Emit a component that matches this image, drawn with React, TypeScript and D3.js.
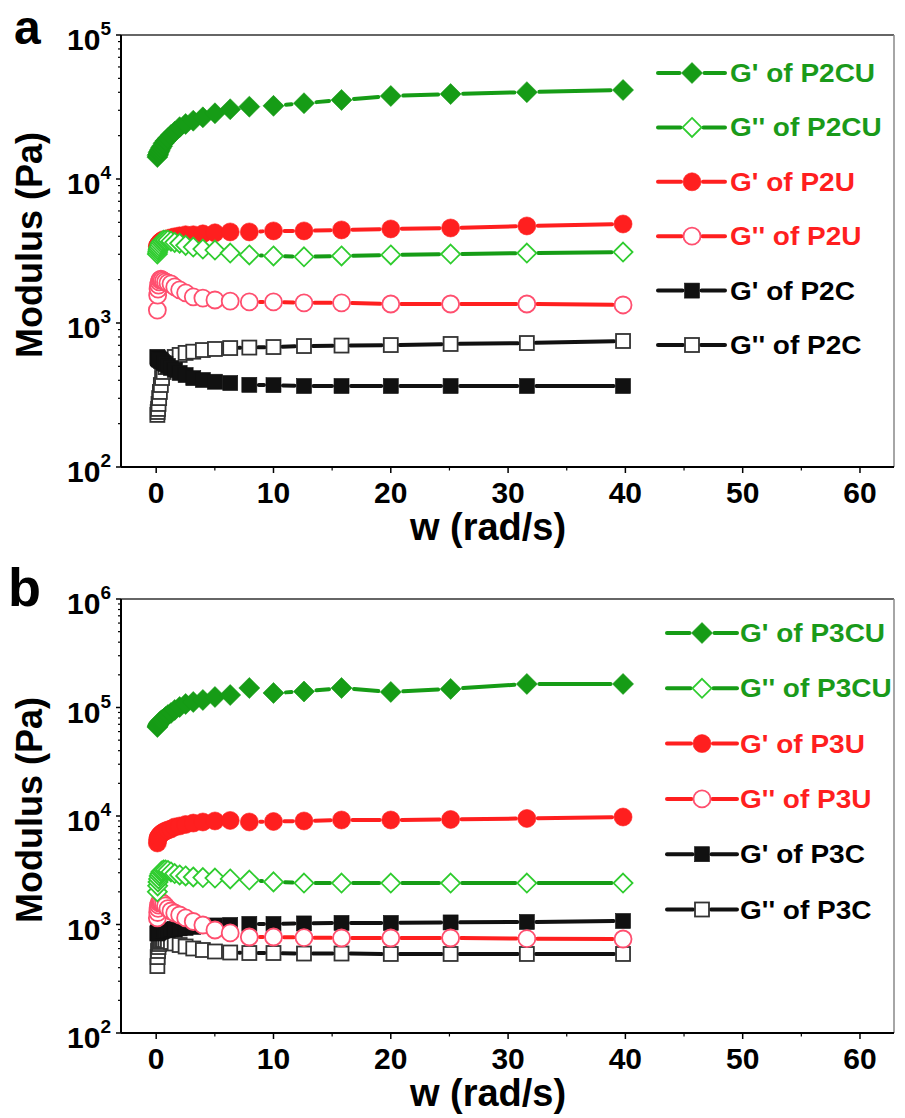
import React from "react";
import * as d3 from "d3";

// angular frequency (rad/s), low to high
const freq = [0.1, 0.126, 0.158, 0.2, 0.251, 0.316, 0.398, 0.501, 0.631, 0.794, 1, 1.26, 1.58, 2, 2.51, 3.16, 3.98, 5.01, 6.31, 7.94, 10, 12.6, 15.8, 20, 25.1, 31.6, 39.8];

// panel a
const p2cuStorage = [14200, 14600, 14800, 15200, 15500, 15900, 16400, 16900, 17700, 18400, 19200, 20200, 21300, 22900, 24100, 25400, 26800, 28600, 30500, 31800, 32200, 33600, 35400, 37700, 38900, 40100, 41500];
const p2cuLoss = [3010, 3110, 3210, 3300, 3400, 3520, 3630, 3700, 3760, 3760, 3760, 3700, 3630, 3580, 3460, 3370, 3260, 3210, 3060, 2970, 2920, 2880, 2920, 2970, 3010, 3060, 3110];
const p2uStorage = [3390, 3450, 3450, 3500, 3560, 3610, 3670, 3730, 3790, 3790, 3850, 3910, 3970, 4030, 4100, 4100, 4160, 4230, 4290, 4290, 4360, 4360, 4430, 4500, 4570, 4720, 4870];
const p2uLoss = [1230, 1560, 1720, 1830, 1930, 1990, 2020, 1990, 1960, 1930, 1900, 1870, 1780, 1700, 1620, 1520, 1490, 1445, 1420, 1400, 1400, 1380, 1380, 1355, 1355, 1355, 1334];
const p2cStorage = [582, 573, 568, 563, 558, 554, 545, 536, 527, 519, 503, 487, 472, 450, 435, 414, 402, 391, 383, 372, 370, 365, 365, 365, 365, 365, 365];
const p2cLoss = [230, 241, 253, 274, 301, 332, 371, 415, 457, 494, 527, 553, 581, 600, 620, 632, 649, 660, 670, 675, 681, 692, 697, 703, 715, 726, 750];

// panel b
const p3cuStorage = [66100, 67500, 69000, 70500, 72000, 73500, 75100, 76700, 78300, 81700, 85300, 89000, 94900, 101000, 107700, 112400, 117300, 125000, 130300, 151300, 136100, 140400, 151300, 139000, 148300, 164800, 164800];
const p3cuLoss = [2000, 2270, 2470, 2630, 2800, 2920, 3050, 3120, 3180, 3180, 3150, 3050, 2950, 2860, 2800, 2740, 2710, 2680, 2630, 2570, 2470, 2410, 2410, 2410, 2410, 2410, 2410];
const p3uStorage = [5640, 6010, 6270, 6400, 6540, 6670, 6820, 6970, 7120, 7270, 7430, 7590, 7920, 8090, 8350, 8610, 8810, 9000, 9100, 8810, 8900, 9000, 9190, 9190, 9290, 9490, 9790];
const p3uLoss = [1150, 1290, 1410, 1510, 1580, 1617, 1617, 1580, 1546, 1482, 1403, 1332, 1277, 1224, 1149, 1066, 989, 890, 836, 767, 767, 758, 751, 751, 751, 740, 735];
const p3cStorage = [826, 835, 845, 853, 853, 862, 870, 870, 880, 890, 890, 900, 910, 920, 930, 950, 970, 980, 990, 1012, 1012, 1023, 1034, 1034, 1045, 1055, 1077];
const p3cLoss = [414, 501, 570, 620, 661, 690, 704, 719, 719, 719, 704, 690, 668, 647, 627, 601, 582, 564, 552, 546, 546, 540, 540, 535, 535, 535, 535];

const xTicks = [0, 10, 20, 30, 40, 50, 60];
const xMinorTicks = [5, 15, 25, 35, 45, 55];

const FONT = "'Liberation Sans', Arial, Helvetica, sans-serif";
const GREEN = "#169c16";
const GREEN_OPEN = "#2fcc2f";
const GREEN_TEXT = "#1a9a1a";
const RED = "#ff1f1f";
const RED_OPEN = "#ff4f6f";
const BLACK = "#111";

type Shape = "diamond" | "circle" | "square";

interface Series {
  name: string;
  values: number[];
  shape: Shape;
  filled: boolean;
  color: string;
  stroke: string;
  text: string;
}

const seriesA: Series[] = [
  { name: "G' of P2CU", values: p2cuStorage, shape: "diamond", filled: true, color: GREEN, stroke: GREEN, text: GREEN_TEXT },
  { name: "G'' of P2CU", values: p2cuLoss, shape: "diamond", filled: false, color: GREEN, stroke: GREEN_OPEN, text: GREEN_TEXT },
  { name: "G' of P2U", values: p2uStorage, shape: "circle", filled: true, color: RED, stroke: RED, text: RED },
  { name: "G'' of P2U", values: p2uLoss, shape: "circle", filled: false, color: RED, stroke: RED_OPEN, text: RED },
  { name: "G' of P2C", values: p2cStorage, shape: "square", filled: true, color: BLACK, stroke: BLACK, text: "#000" },
  { name: "G'' of P2C", values: p2cLoss, shape: "square", filled: false, color: BLACK, stroke: "#333", text: "#000" },
];

const seriesB: Series[] = [
  { name: "G' of P3CU", values: p3cuStorage, shape: "diamond", filled: true, color: GREEN, stroke: GREEN, text: GREEN_TEXT },
  { name: "G'' of P3CU", values: p3cuLoss, shape: "diamond", filled: false, color: GREEN, stroke: GREEN_OPEN, text: GREEN_TEXT },
  { name: "G' of P3U", values: p3uStorage, shape: "circle", filled: true, color: RED, stroke: RED, text: RED },
  { name: "G'' of P3U", values: p3uLoss, shape: "circle", filled: false, color: RED, stroke: RED_OPEN, text: RED },
  { name: "G' of P3C", values: p3cStorage, shape: "square", filled: true, color: BLACK, stroke: BLACK, text: "#000" },
  { name: "G'' of P3C", values: p3cLoss, shape: "square", filled: false, color: BLACK, stroke: "#333", text: "#000" },
];

function markerHalf(shape: Shape, filled: boolean) {
  if (shape === "diamond") return filled ? 10.5 : 9.5;
  if (shape === "circle") return filled ? 9 : 8.5;
  return filled ? 7.5 : 7;
}

function Marker({ s, x, y }: { s: Series; x: number; y: number }) {
  const h = markerHalf(s.shape, s.filled);
  const fill = s.filled ? s.color : "#fff";
  const sw = s.filled ? 0.6 : 1.8;
  if (s.shape === "diamond") {
    return <polygon points={`${x},${y - h} ${x + h},${y} ${x},${y + h} ${x - h},${y}`} fill={fill} stroke={s.stroke} strokeWidth={sw} />;
  }
  if (s.shape === "circle") {
    return <circle cx={x} cy={y} r={h} fill={fill} stroke={s.stroke} strokeWidth={sw} />;
  }
  return <rect x={x - h} y={y - h} width={2 * h} height={2 * h} fill={fill} stroke={s.stroke} strokeWidth={sw} />;
}

interface PanelProps {
  letter: string;
  letterX: number;
  letterY: number;
  letterSize: number;
  top: number;
  bottom: number;
  yMax: number;
  series: Series[];
  legendTop: number;
  legendStep: number;
  legendX0: number;
  legendX1: number;
  legendMx: number;
  legendTx: number;
}

function Panel(p: PanelProps) {
  const left = 121;
  const right = 894;
  const x = d3.scaleLinear().domain([-3, 62.9]).range([left, right]);
  const y = d3.scaleLog().domain([100, p.yMax]).range([p.bottom, p.top]);

  const allTicks = y.ticks();
  const isMajor = (v: number) => Math.abs(Math.log10(v) - Math.round(Math.log10(v))) < 1e-6;
  const majors = allTicks.filter(isMajor);
  const minors = allTicks.filter((v) => !isMajor(v));

  const drawOrder = [...p.series].reverse();

  return (
    <g fontFamily={FONT} fontWeight="bold">
      <text x={p.letterX} y={p.letterY} fontSize={p.letterSize}>
        {p.letter}
      </text>

      {/* series: lines with small gaps at the symbols, then symbols */}
      {drawOrder.map((s) => {
        const pts = s.values.map((v, i) => [x(freq[i]), y(v)] as [number, number]);
        const gap = markerHalf(s.shape, s.filled) + 2;
        const segs: JSX.Element[] = [];
        for (let i = 0; i < pts.length - 1; i++) {
          const [x0, y0] = pts[i];
          const [x1, y1] = pts[i + 1];
          const dx = x1 - x0;
          const dy = y1 - y0;
          const len = Math.hypot(dx, dy);
          if (len <= 2 * gap + 1) continue;
          const ux = dx / len;
          const uy = dy / len;
          segs.push(
            <line
              key={i}
              x1={x0 + ux * gap}
              y1={y0 + uy * gap}
              x2={x1 - ux * gap}
              y2={y1 - uy * gap}
              stroke={s.color}
              strokeWidth={4}
              strokeLinecap="round"
            />
          );
        }
        return (
          <g key={s.name}>
            {segs}
            {pts.map(([px, py], i) => (
              <Marker key={i} s={s} x={px} y={py} />
            ))}
          </g>
        );
      })}

      {/* frame */}
      <line x1={left} y1={p.top} x2={right} y2={p.top} stroke="#333" strokeWidth={1.5} />
      <line x1={right} y1={p.top} x2={right} y2={p.bottom} stroke="#888" strokeWidth={1.5} />
      <line x1={left} y1={p.top} x2={left} y2={p.bottom} stroke="#000" strokeWidth={2} />
      <line x1={left} y1={p.bottom} x2={right} y2={p.bottom} stroke="#000" strokeWidth={2} />

      {/* y axis ticks */}
      {majors.map((v) => (
        <g key={`M${v}`}>
          <line x1={left - 5} x2={left} y1={y(v)} y2={y(v)} stroke="#000" strokeWidth={1.5} />
          <text x={111} y={y(v) + 15} textAnchor="end" fontSize={30}>
            10
            <tspan dy={-15} fontSize={19}>
              {Math.round(Math.log10(v))}
            </tspan>
          </text>
        </g>
      ))}
      {minors.map((v) => (
        <line key={`m${v}`} x1={left - 3} x2={left} y1={y(v)} y2={y(v)} stroke="#000" strokeWidth={1.2} />
      ))}

      {/* x axis ticks */}
      {xTicks.map((v) => (
        <g key={`x${v}`}>
          <line x1={x(v)} x2={x(v)} y1={p.bottom} y2={p.bottom + 6} stroke="#000" strokeWidth={1.5} />
          <text x={x(v)} y={p.bottom + 36} textAnchor="middle" fontSize={30}>
            {v}
          </text>
        </g>
      ))}
      {xMinorTicks.map((v) => (
        <line key={`xm${v}`} x1={x(v)} x2={x(v)} y1={p.bottom} y2={p.bottom + 3.5} stroke="#000" strokeWidth={1.2} />
      ))}

      <text x={488} y={p.bottom + 73} textAnchor="middle" fontSize={38}>
        w (rad/s)
      </text>
      <text
        transform={`translate(42,${(p.top + p.bottom) / 2 - 6}) rotate(-90)`}
        textAnchor="middle"
        fontSize={36}
      >
        Modulus (Pa)
      </text>

      {/* legend */}
      {p.series.map((s, i) => {
        const ly = p.legendTop + i * p.legendStep;
        const h = markerHalf(s.shape, s.filled);
        return (
          <g key={`lg${i}`}>
            <line x1={p.legendX0} x2={p.legendMx - h - 2} y1={ly} y2={ly} stroke={s.color} strokeWidth={4} strokeLinecap="round" />
            <line x1={p.legendMx + h + 2} x2={p.legendX1} y1={ly} y2={ly} stroke={s.color} strokeWidth={4} strokeLinecap="round" />
            <Marker s={s} x={p.legendMx} y={ly} />
            <text transform={`translate(${p.legendTx},${ly + 9}) scale(1.12,1)`} fontSize={25} fill={s.text}>
              {s.name}
            </text>
          </g>
        );
      })}
    </g>
  );
}

export default function App() {
  return (
    <svg
      width={905}
      height={1118}
      viewBox="0 0 905 1118"
      style={{ position: "absolute", left: 0, top: 0, background: "#fff" }}
    >
      <rect width={905} height={1118} fill="#fff" />
      <Panel
        letter="a"
        letterX={14}
        letterY={44}
        letterSize={48}
        top={35}
        bottom={467}
        yMax={1e5}
        series={seriesA}
        legendTop={73}
        legendStep={54.4}
        legendX0={658}
        legendX1={725}
        legendMx={692}
        legendTx={730}
      />
      <Panel
        letter="b"
        letterX={8}
        letterY={606}
        letterSize={54}
        top={599}
        bottom={1033}
        yMax={1e6}
        series={seriesB}
        legendTop={633}
        legendStep={55.3}
        legendX0={667}
        legendX1={737}
        legendMx={702}
        legendTx={740}
      />
    </svg>
  );
}
